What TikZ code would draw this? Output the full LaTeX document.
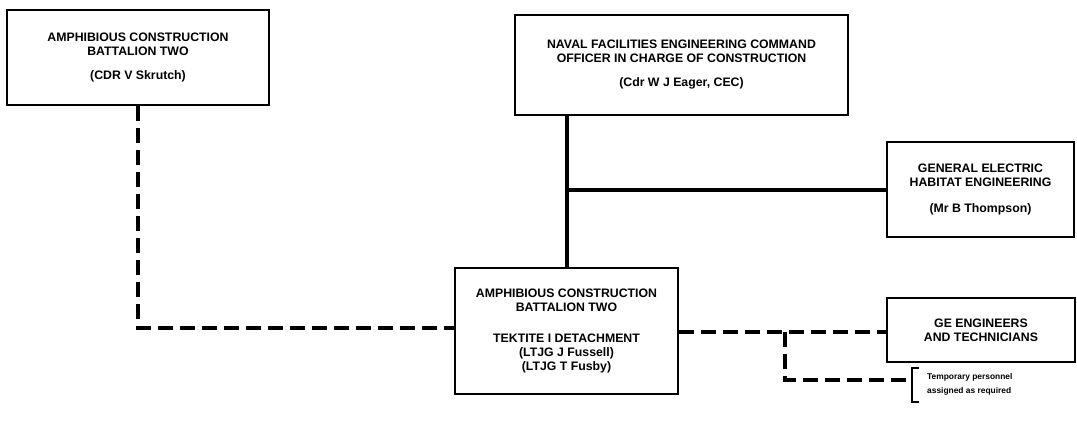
\documentclass[tikz,border=0pt]{standalone}
\usepackage{fontspec}
\setmainfont{Liberation Sans}
\begin{document}
\begin{tikzpicture}[x=1pt,y=-1pt,
  orgbox/.style={draw=black,line width=2.2pt,align=center,inner sep=0pt,
    font=\fontsize{12.3}{14}\selectfont\bfseries},
  solidline/.style={line width=3.4pt},
  dashline/.style={line width=3.4pt,dash pattern=on 15pt off 7pt}]
\useasboundingbox (0,0) rectangle (1077,421);
\node[orgbox,minimum width=262pt,minimum height=95pt] (acb1) at (138,57.5)
  {AMPHIBIOUS CONSTRUCTION\\BATTALION TWO\\[10pt](CDR V Skrutch)};
\node[orgbox,minimum width=333pt,minimum height=100pt] (nav) at (681.5,65)
  {NAVAL FACILITIES ENGINEERING COMMAND\\OFFICER IN CHARGE OF CONSTRUCTION\\[10pt](Cdr W J Eager, CEC)};
\node[orgbox,minimum width=187pt,minimum height=95pt] (ge) at (980.5,189.5)
  {GENERAL ELECTRIC\\HABITAT ENGINEERING\\[12pt](Mr B Thompson)};
\node[orgbox,minimum width=223pt,minimum height=126pt] (acb2) at (566.5,331)
  {AMPHIBIOUS CONSTRUCTION\\BATTALION TWO\\[17pt]TEKTITE I DETACHMENT\\(LTJG J Fussell)\\(LTJG T Fusby)};
\node[orgbox,minimum width=188pt,minimum height=64pt] (geeng) at (981,330)
  {GE ENGINEERS\\AND TECHNICIANS};
\node[anchor=west,align=left,inner sep=0pt,font=\fontsize{8.4}{14}\selectfont\bfseries] (tmp) at (927,384)
  {Temporary personnel\\assigned as required};
% bracket
\coordinate (brk) at (912,380);
\draw[line width=2pt] (919,368) -- (912,368) -- (912,402) -- (919,402);
% connectors
\coordinate (c1) at (567,190);
\draw[solidline] (nav.south -| c1) -- (acb2.north -| c1);
\draw[solidline] (c1) -- (c1 -| ge.west);
\coordinate (d1) at (138,328);
\draw[dashline] (acb1.south -| d1) -- (d1) -- (d1 -| acb2.west);
\coordinate (d2) at (785,332);
\draw[dashline] (d2 -| acb2.east) -- (d2 -| geeng.west);
\draw[dashline] (d2) -- (d2 |- brk) -- (brk);
\end{tikzpicture}
\end{document}
